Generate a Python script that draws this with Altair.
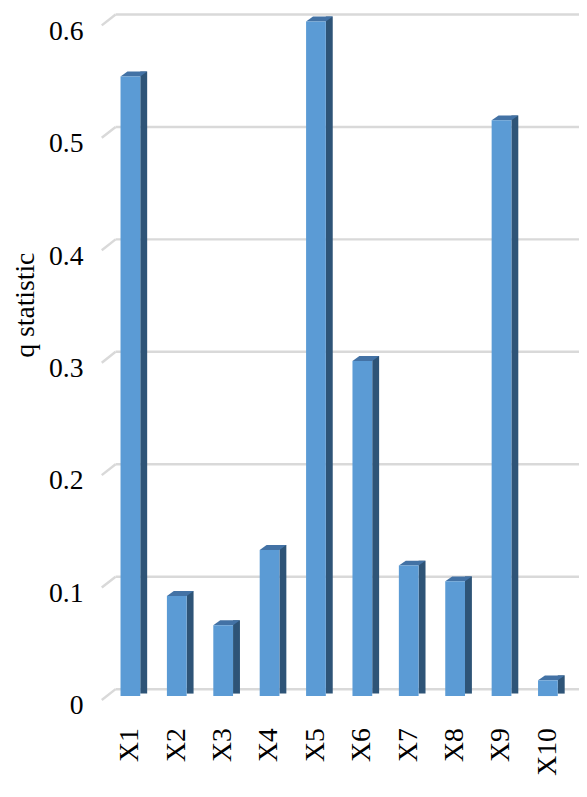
import altair as alt
import pandas as pd

# ---- data ----
categories = ["X1", "X2", "X3", "X4", "X5", "X6", "X7", "X8", "X9", "X10"]
q_values = [0.551, 0.089, 0.063, 0.130, 0.600, 0.298, 0.116, 0.102, 0.512, 0.014]
grid_values = [0.0, 0.1, 0.2, 0.3, 0.4, 0.5, 0.6]

bars = pd.DataFrame({"var": categories, "q": q_values, "zero": [0.0] * len(categories)})
grid = pd.DataFrame({"t": grid_values})

W = 470
H = 683.5
FRONT = "#5b9bd5"
TOP = "#4372a5"
SIDE = "#2e5477"
GRID = "#d9d9d9"
FONT = "'Liberation Serif', 'Times New Roman', 'DejaVu Serif', serif"

yscale = alt.Scale(domain=[0, 0.6], nice=False, zero=True)
xscale = alt.Scale(paddingInner=0, paddingOuter=0)

x_axis = alt.Axis(
    title=None, labelAngle=-90, labelAlign="right", labelBaseline="middle",
    labelFont=FONT, labelFontSize=28, labelColor="black",
    labelPadding=32, ticks=False, tickSize=0, domain=False, grid=False,
)
y_axis = alt.Axis(
    title="q statistic", titleFont=FONT, titleFontSize=28,
    titleFontWeight="normal", titleColor="black", titleAngle=-90,
    titleAlign="center", titleBaseline="alphabetic",
    titleX=-75, titleY=287,
    values=grid_values, format=".1~f",
    labelFont=FONT, labelFontSize=28, labelColor="black",
    labelPadding=24.5, labelOffset=10,
    ticks=False, tickSize=0, domain=False, grid=False,
)

xenc = alt.X("var:N", sort=categories, scale=xscale, axis=x_axis)
yenc = alt.Y("q:Q", scale=yscale, axis=y_axis)

grid_front = alt.Chart(grid).mark_rule(
    color=GRID, strokeWidth=2.5, yOffset=4, y2Offset=-7
).encode(
    x=alt.value(-5.5), x2=alt.value(8.5),
    y=alt.Y("t:Q", scale=yscale, axis=y_axis), y2=alt.Y2("t"),
)

grid_back = alt.Chart(grid).mark_rule(
    color=GRID, strokeWidth=2.5, yOffset=-7
).encode(
    x=alt.value(8.5), x2=alt.value(W + 8.5),
    y=alt.Y("t:Q", scale=yscale, axis=y_axis),
)

side = alt.Chart(bars).mark_bar(
    color=SIDE, width=7, xOffset=13.5, yOffset=-5, y2Offset=-2.5
).encode(x=xenc, y=yenc, y2=alt.Y2("zero"))

top = alt.Chart(bars).mark_point(
    shape="M -1 0.1852 L 0.4815 0.1852 L 1 -0.1852 L -0.4815 -0.1852 Z",
    size=729, filled=True, color=TOP, opacity=1, strokeWidth=0,
    xOffset=3.5, yOffset=-2.5,
).encode(x=xenc, y=yenc)

front = alt.Chart(bars).mark_bar(color=FRONT, width=20).encode(
    x=xenc, y=yenc, y2=alt.Y2("zero"),
)

chart = alt.layer(grid_front, grid_back, side, top, front).properties(
    width=W, height=H,
    padding={"left": 100.5, "top": 8.5, "right": 8, "bottom": 83},
    autosize=alt.AutoSizeParams(type="none"),
    background="white",
).configure_view(stroke=None)

chart.save("out.html", embed_options={"renderer": "svg", "actions": False})
